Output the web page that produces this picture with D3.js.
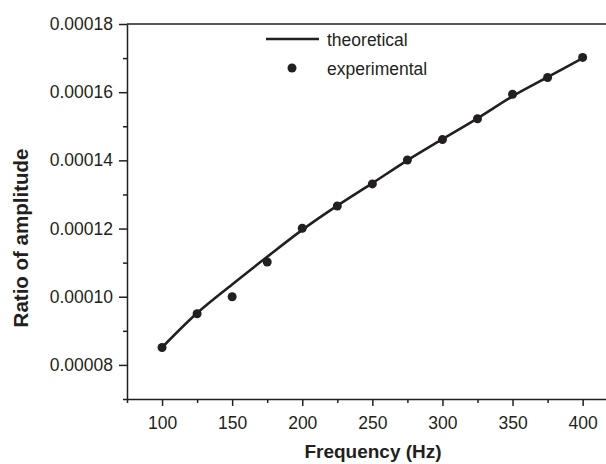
<!DOCTYPE html>
<html>
<head>
<meta charset="utf-8">
<script src="https://cdn.jsdelivr.net/npm/d3@7"></script>
<style>
  body { margin: 0; background: #fff; }
  svg { display: block; font-family: "Liberation Sans", Arial, Helvetica, sans-serif; }
</style>
</head>
<body>
<script>
// values
let freqs = [100, 125, 150, 175, 200, 225, 250, 275, 300, 325, 350, 375, 400];
let experimental = [0.0000851, 0.000095, 0.0001, 0.0001102, 0.0001201, 0.0001266, 0.0001331,
    0.0001401, 0.0001461, 0.0001522, 0.0001594, 0.0001643, 0.0001702];
let theoretical = [0.0000851, 0.0000952, 0.0001036, 0.0001117, 0.0001196, 0.0001267, 0.0001333,
    0.00014, 0.0001462, 0.0001523, 0.0001588, 0.0001644, 0.0001700];

let xTicks = [100, 150, 200, 250, 300, 350, 400];
let xMinor = [75, 125, 175, 225, 275, 325, 375, 425];
let yTicks = [0.00008, 0.0001, 0.00012, 0.00014, 0.00016, 0.00018];
let yMinor = [0.00007, 0.00009, 0.00011, 0.00013, 0.00015, 0.00017];

window.onload = drawChart();

function drawChart() {
    let width = 606,
        height = 464;
    let left = 127, top = 24, bottom = 399;

    let svg = d3.select("body")
        .append("svg")
        .attr("width", width)
        .attr("height", height);

    //x runs past the right edge, the picture is cut there
    let x = d3.scaleLinear()
        .domain([75, 425])
        .range([left, left + 350 * 1.402]);

    let y = d3.scaleLinear()
        .domain([0.00007, 0.00018])
        .range([bottom, top]);

    let axisColor = "#231f20";

    //top frame line
    svg.append("line")
        .attr("x1", left).attr("x2", width)
        .attr("y1", top).attr("y2", top)
        .attr("stroke", axisColor)
        .attr("stroke-width", 1.5);

    //minor ticks
    svg.append("g")
        .attr("transform", "translate(0," + bottom + ")")
        .call(d3.axisBottom(x).tickValues(xMinor).tickSize(4).tickFormat(""))
        .call(g => g.select(".domain").remove())
        .selectAll("line").attr("stroke", axisColor).attr("stroke-width", 1.5);

    svg.append("g")
        .attr("transform", "translate(" + left + ",0)")
        .call(d3.axisLeft(y).tickValues(yMinor).tickSize(4).tickFormat(""))
        .call(g => g.select(".domain").remove())
        .selectAll("line").attr("stroke", axisColor).attr("stroke-width", 1.5);

    //major axes
    let xAxis = svg.append("g")
        .attr("transform", "translate(0," + bottom + ")")
        .call(d3.axisBottom(x).tickValues(xTicks).tickSize(7).tickPadding(11).tickSizeOuter(0));

    let yAxis = svg.append("g")
        .attr("transform", "translate(" + left + ",0)")
        .call(d3.axisLeft(y).tickValues(yTicks).tickSize(8).tickPadding(6)
            .tickFormat(d3.format(".5f")).tickSizeOuter(0));

    [xAxis, yAxis].forEach(function (g) {
        g.select(".domain").attr("stroke", axisColor).attr("stroke-width", 1.5);
        g.selectAll(".tick line").attr("stroke", axisColor).attr("stroke-width", 1.5);
        g.selectAll(".tick text")
            .attr("fill", axisColor)
            .style("font-size", "17.5px")
            .style("font-family", "'Liberation Sans', Arial, sans-serif");
    });

    //theoretical curve
    let line = d3.line()
        .x(function (d, i) { return x(freqs[i]); })
        .y(function (d) { return y(d); })
        .curve(d3.curveMonotoneX);

    svg.append("path")
        .datum(theoretical)
        .attr("fill", "none")
        .attr("stroke", axisColor)
        .attr("stroke-width", 2.6)
        .attr("d", line);

    //experimental points
    svg.selectAll(".pt")
        .data(experimental)
        .enter()
        .append("circle")
        .attr("class", "pt")
        .attr("cx", function (d, i) { return x(freqs[i]); })
        .attr("cy", function (d) { return y(d); })
        .attr("r", 4.5)
        .attr("fill", axisColor);

    //legend
    let legend = svg.append("g");
    legend.append("line")
        .attr("x1", 266).attr("x2", 319)
        .attr("y1", 39).attr("y2", 39)
        .attr("stroke", axisColor)
        .attr("stroke-width", 2.6);
    legend.append("text")
        .attr("x", 327).attr("y", 46)
        .attr("fill", axisColor)
        .style("font-size", "17.5px")
        .text("theoretical");
    legend.append("circle")
        .attr("cx", 292).attr("cy", 68)
        .attr("r", 4.5)
        .attr("fill", axisColor);
    legend.append("text")
        .attr("x", 327).attr("y", 75)
        .attr("fill", axisColor)
        .style("font-size", "17.5px")
        .text("experimental");

    //axis titles
    svg.append("text")
        .attr("x", 373).attr("y", 458)
        .attr("text-anchor", "middle")
        .attr("fill", axisColor)
        .style("font-size", "19px")
        .style("font-weight", "bold")
        .text("Frequency (Hz)");

    svg.append("text")
        .attr("transform", "translate(28,238) rotate(-90)")
        .attr("text-anchor", "middle")
        .attr("fill", axisColor)
        .style("font-size", "20.5px")
        .style("font-weight", "bold")
        .text("Ratio of amplitude");
}
</script>
</body>
</html>
